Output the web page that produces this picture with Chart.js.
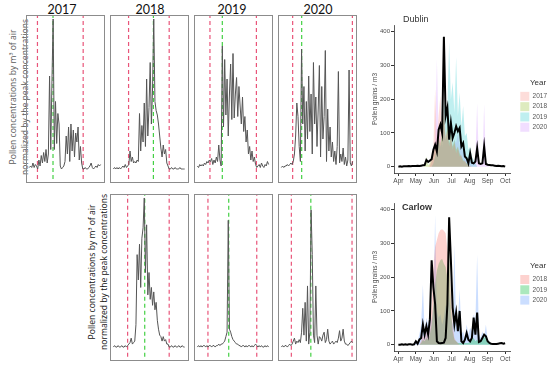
<!DOCTYPE html>
<html>
<head>
<meta charset="utf-8">
<script src="https://cdn.jsdelivr.net/npm/chart.js@4.4.1/dist/chart.umd.min.js"></script>
<style>
  body { margin: 0; background: #fff; width: 550px; height: 370px; position: relative; overflow: hidden; }
  .panel { position: absolute; border: 1.5px solid #8c8c8c; box-sizing: border-box; width: 79px; }
  .panel canvas { display: block; }
  .year { position: absolute; top: 2px; width: 60px; text-align: center; font: 12.5px Lato, sans-serif; color: #111; }
  .ylab { position: absolute; width: 180px; height: 22px; line-height: 11px; text-align: center;
          font: 8.6px "Open Sans", sans-serif; transform: rotate(-90deg); white-space: nowrap; }
  .site { position: absolute; font: 9px "Liberation Sans", Arial, sans-serif; color: #333; }
  .big { position: absolute; }
</style>
</head>
<body>

<div class="year" style="left:32px">2017</div>
<div class="year" style="left:120px">2018</div>
<div class="year" style="left:202px">2019</div>
<div class="year" style="left:288px">2020</div>

<div class="ylab" style="left:-72px;top:86px;color:#5a5a5a">Pollen concentrations by m³ of air<br>normalized by the peak concentrations</div>
<div class="ylab" style="left:7px;top:261px;color:#111">Pollen concentrations by m³ of air<br>normalized by the peak concentrations</div>

<div class="panel" style="left:26px;top:15px;height:168px"><canvas id="d2017" width="76" height="165"></canvas></div>
<div class="panel" style="left:110px;top:15px;height:168px"><canvas id="d2018" width="76" height="165"></canvas></div>
<div class="panel" style="left:194px;top:15px;height:168px"><canvas id="d2019" width="76" height="165"></canvas></div>
<div class="panel" style="left:278px;top:15px;height:168px"><canvas id="d2020" width="76" height="165"></canvas></div>

<div class="panel" style="left:110px;top:194px;height:167px"><canvas id="c2018" width="76" height="164"></canvas></div>
<div class="panel" style="left:194px;top:194px;height:167px"><canvas id="c2019" width="76" height="164"></canvas></div>
<div class="panel" style="left:278px;top:194px;height:167px"><canvas id="c2020" width="76" height="164"></canvas></div>

<canvas class="big" id="dublin" width="185" height="172" style="left:365px;top:15px"></canvas>
<canvas class="big" id="carlow" width="185" height="172" style="left:365px;top:193px"></canvas>
<div class="site" style="left:403px;top:14px">Dublin</div>
<div class="site" style="left:402px;top:202px;font-weight:bold">Carlow</div>

<script>
// normalised daily series (left panels), one value per step
const dub2017 = [0.01,0.02,0.01,0.04,0.01,0.03,0.02,0.00,0.06,0.02,
  0.09,0.04,0.11,0.05,0.13,0.04,0.10,0.62,0.13,0.58,
  1.00,0.13,0.45,0.17,0.37,0.30,0.02,0.00,0.01,0.02,
  0.05,0.22,0.10,0.28,0.05,0.30,0.12,0.26,0.08,0.24,
  0.18,0.28,0.06,0.15,0.04,0.00,0.00,0.01,0.00,0.00,
  0.01,0.02,0.04,0.01,0.00,0.01,0.02,0.01,0.03,0.02,0.03];
const dub2018 = [0.00,0.01,0.00,0.01,0.00,0.01,0.00,0.01,0.02,0.01,
  0.03,0.01,0.02,0.03,0.12,0.05,0.08,0.04,0.05,0.04,
  0.06,0.05,0.37,0.12,0.29,0.18,0.44,0.15,0.60,0.22,
  0.41,0.71,0.30,0.54,1.00,0.45,0.39,0.36,0.30,0.22,
  0.14,0.08,0.16,0.10,0.13,0.04,0.02,0.00,0.00,0.01,
  0.00,0.00,0.01,0.00,0.00,0.00,0.01,0.00,0.00,0.00,0.00];
const dub2019 = [0.02,0.01,0.03,0.02,0.03,0.02,0.04,0.03,0.05,0.04,
  0.06,0.05,0.07,0.03,0.06,0.04,0.08,0.05,0.16,0.06,
  0.02,0.82,0.28,0.73,0.36,0.60,0.22,0.50,0.70,0.33,
  0.77,0.34,0.50,0.61,0.35,0.55,0.42,0.30,0.48,0.25,
  0.35,0.18,0.26,0.10,0.15,0.06,0.12,0.05,0.08,0.03,
  0.01,0.02,0.03,0.01,0.04,0.02,0.01,0.03,0.02,0.05,0.03];
const dub2020 = [0.01,0.02,0.01,0.02,0.02,0.03,0.02,0.03,0.04,0.03,
  0.05,0.10,0.22,0.44,0.35,0.15,0.05,0.80,0.30,0.55,
  0.12,0.45,0.20,0.62,0.25,0.50,0.10,0.71,0.30,0.48,
  0.15,0.40,0.69,0.08,0.55,0.20,0.35,0.79,0.05,0.40,
  0.12,0.28,0.08,0.18,0.05,0.12,0.03,0.15,0.65,0.04,
  0.10,0.05,0.14,0.03,0.08,0.02,0.06,0.66,0.04,0.02,0.05];
const car2018 = [0.00,0.01,0.00,0.00,0.01,0.00,0.00,0.01,0.00,0.00,
  0.01,0.00,0.01,0.02,0.03,0.06,0.02,0.03,0.04,0.15,
  0.62,0.45,0.69,0.40,0.73,0.80,1.00,0.50,0.82,0.35,
  0.50,0.32,0.40,0.28,0.37,0.25,0.30,0.18,0.12,0.08,
  0.07,0.04,0.07,0.04,0.05,0.02,0.02,0.00,0.00,0.01,
  0.00,0.00,0.01,0.00,0.00,0.01,0.00,0.00,0.01,0.00,0.00];
const car2019 = [0.00,0.01,0.00,0.01,0.00,0.01,0.01,0.00,0.01,0.00,
  0.01,0.01,0.00,0.01,0.01,0.00,0.01,0.01,0.02,0.01,
  0.02,0.02,0.03,0.04,0.07,0.10,0.85,0.12,0.10,0.07,
  0.05,0.04,0.03,0.02,0.02,0.01,0.01,0.00,0.01,0.01,
  0.00,0.01,0.00,0.01,0.01,0.00,0.01,0.00,0.01,0.02,
  0.01,0.00,0.01,0.00,0.01,0.00,0.00,0.01,0.00,0.01,0.00];
const car2020 = [0.00,0.01,0.00,0.01,0.01,0.00,0.01,0.02,0.01,0.02,
  0.04,0.06,0.02,0.04,0.03,0.05,0.03,0.10,0.26,0.08,
  0.30,0.04,0.41,0.02,0.10,0.92,0.62,0.08,0.03,0.41,
  0.08,0.02,0.07,0.06,0.04,0.08,0.10,0.03,0.05,0.12,
  0.04,0.02,0.03,0.04,0.02,0.03,0.04,0.03,0.06,0.11,
  0.04,0.06,0.12,0.04,0.02,0.02,0.01,0.02,0.03,0.04,0.03];

// season start / end (red) and peak day (green), in the same steps
const dubSeason = [[6.8, 45.3], [12.8, 47.0], [10.6, 49.7], [9.5, 59.8]];
const dubPeak = [19.9, 33.7, 21.0, 17.1];
const carSeason = [[12.0, 47.0], [8.9, 50.0], [8.4, 59.5]];
const carPeak = [26.4, 26.4, 24.8];

// right hand charts: days after 1 April
const days = [0,3,6,9,12,15,18,21,24,27,30,33,36,39,42,45,48,51,54,57,60,63,66,69,72,75,78,81,84,87,
  90,93,96,99,102,105,108,111,114,117,120,123,126,129,132,135,138,141,144,147,150,153,156,159,162,165,168,171,174,177,180,183];
const monthDays = [0, 30, 61, 91, 122, 153, 183];
const monthLabels = ["Apr", "May", "Jun", "Jul", "Aug", "Sep", "Oct"];
const grainTicks = [0, 100, 200, 300, 400];

const dublinMean = [0,1,0,1,1,1,2,1,2,2,2,3,2,3,4,5,20,14,18,22,50,65,45,110,125,100,385,150,175,80,
  130,85,100,120,105,115,60,70,30,25,10,40,12,10,15,55,10,8,10,60,8,6,5,4,4,3,2,3,2,1,2,0];
const dublin2017 = [0,0,0,0,0,0,0,0,0,0,0,0,0,0,0,0,0,0,5,30,60,230,70,150,210,120,180,90,110,60,
  90,50,70,40,55,30,35,15,20,8,5,3,0,0,0,0,0,0,0,0,0,0,0,0,0,0,0,0,0,0,0,0];
const dublin2018 = [0,0,0,0,0,0,0,0,0,0,0,0,0,0,0,3,30,5,10,20,40,60,40,90,70,110,150,80,120,70,
  100,60,80,50,60,40,30,20,15,10,5,0,0,0,0,0,0,0,0,0,0,0,0,0,0,0,0,0,0,0,0,0];
const dublin2019 = [0,0,0,0,0,0,0,0,0,0,0,0,0,0,0,0,0,0,0,0,10,30,50,80,60,120,200,150,180,370,
  200,250,160,326,150,220,120,180,90,100,50,60,30,20,10,0,0,0,0,0,0,0,0,0,0,0,0,0,0,0,0,0];
const dublin2020 = [0,0,0,0,0,0,0,0,0,0,0,0,0,0,0,0,0,0,0,15,40,80,320,90,100,60,140,80,100,70,
  90,60,80,70,100,60,80,40,50,20,30,15,20,10,30,189,10,5,10,186,10,5,0,0,0,0,0,0,0,0,0,0];

const carlowMean = [0,0,1,0,1,0,1,1,0,1,10,3,15,20,60,30,55,30,75,250,170,120,10,5,4,5,6,20,120,378,
  250,110,60,95,40,100,10,5,15,35,15,10,20,80,30,95,8,10,20,30,25,10,5,3,2,2,2,3,4,5,3,4];
const carlow2018 = [0,0,0,0,0,0,0,0,0,0,0,0,0,10,30,15,40,20,50,120,230,290,310,330,340,342,338,330,280,260,
  150,60,20,10,5,0,0,0,0,0,0,0,0,0,0,0,0,0,0,0,0,0,0,0,0,0,0,0,0,0,0,0];
const carlow2019 = [0,0,0,0,0,0,0,0,0,0,0,0,0,5,15,10,20,15,30,60,120,180,220,240,250,255,240,230,200,280,
  120,40,15,10,5,5,5,5,5,5,5,10,15,20,10,15,5,10,25,20,30,15,5,0,0,0,0,0,0,0,0,0];
const carlow2020 = [0,0,0,0,0,0,0,0,0,0,5,10,30,60,178,40,80,60,100,70,120,385,100,80,90,60,80,120,90,150,
  80,60,296,50,70,165,30,40,20,60,30,50,40,90,70,267,30,20,40,20,60,15,10,0,0,0,0,0,0,0,0,0];

const RED = "#e9557a";
const GREEN = "#44d044";

function vline(x, color) {
  return {
    data: [{ x: x, y: -0.3 }, { x: x, y: 1.3 }],
    borderColor: color, borderWidth: 1.2, borderDash: [4, 3],
    pointRadius: 0, fill: false
  };
}

function panel(id, values, season, peak) {
  const sets = [{
    data: values.map((v, i) => ({ x: i, y: v })),
    borderColor: "#555", borderWidth: 1, pointRadius: 0, fill: false
  }];
  season.forEach(x => sets.push(vline(x, RED)));
  sets.push(vline(peak, GREEN));
  new Chart(document.getElementById(id), {
    type: "line",
    data: { datasets: sets },
    options: {
      animation: false, responsive: false, events: [],
      layout: { padding: 0 },
      plugins: { legend: { display: false }, tooltip: { enabled: false } },
      scales: {
        x: { type: "linear", min: -2, max: 62, display: false },
        y: { min: -0.08, max: 1.02, display: false }
      }
    }
  });
}

panel("d2017", dub2017, dubSeason[0], dubPeak[0]);
panel("d2018", dub2018, dubSeason[1], dubPeak[1]);
panel("d2019", dub2019, dubSeason[2], dubPeak[2]);
panel("d2020", dub2020, dubSeason[3], dubPeak[3]);
panel("c2018", car2018, carSeason[0], carPeak[0]);
panel("c2019", car2019, carSeason[1], carPeak[1]);
panel("c2020", car2020, carSeason[2], carPeak[2]);

const FONT = "'Liberation Sans', Arial, sans-serif";

// ggplot keeps a gap between the panel and its legend keys
const legendGap = {
  id: "legendGap",
  afterLayout(chart) {
    chart.legend.left += 8;
    chart.legend.right += 8;
  }
};

function seasonChart(id, mean, years, labels, colors) {
  const sets = years.map((vals, j) => ({
    label: labels[j],
    data: vals.map((v, k) => ({ x: days[k], y: v })),
    backgroundColor: colors[j], borderColor: colors[j], borderWidth: 0,
    pointRadius: 0, fill: "origin", order: 1
  }));
  sets.push({
    label: "mean",
    data: mean.map((v, k) => ({ x: days[k], y: v })),
    borderColor: "#000", borderWidth: 2, pointRadius: 0, fill: false, order: 0
  });

  new Chart(document.getElementById(id), {
    type: "line",
    data: { datasets: sets },
    plugins: [legendGap],
    options: {
      animation: false, responsive: false, events: [],
      layout: { padding: { top: 10, right: 1, left: 0, bottom: 0 } },
      plugins: {
        tooltip: { enabled: false },
        legend: {
          position: "right", align: "center",
          title: { display: true, text: "Year", color: "#333", font: { size: 8, family: FONT }, padding: { top: 0, bottom: 2 } },
          labels: {
            boxWidth: 9, boxHeight: 9, padding: 1.3, color: "#555",
            font: { size: 6.5, family: FONT },
            filter: item => item.text !== "mean"
          }
        }
      },
      scales: {
        x: {
          type: "linear", min: -7.5, max: 193,
          afterBuildTicks: s => { s.ticks = monthDays.map(v => ({ value: v })); },
          afterFit: s => { s.height = 14; },
          ticks: { callback: (v, i) => monthLabels[i], color: "#4d4d4d", font: { size: 6.5, family: FONT }, padding: 1, maxRotation: 0, autoSkip: false },
          grid: { drawOnChartArea: false, tickLength: 3, color: "#333" },
          border: { color: "#333", width: 0.8 }
        },
        y: {
          min: -18.7, max: 420,
          afterBuildTicks: s => { s.ticks = grainTicks.map(v => ({ value: v })); },
          afterFit: s => { s.width = 29; },
          ticks: { color: "#4d4d4d", font: { size: 6, family: FONT }, padding: 1 },
          grid: { drawOnChartArea: false, tickLength: 3, color: "#333" },
          border: { color: "#333", width: 0.8 },
          title: { display: true, text: "Pollen grains / m3", color: "#4d4d4d", font: { size: 6.5, family: FONT }, padding: { top: 6, bottom: 0 } }
        }
      }
    }
  });
}

seasonChart("dublin", dublinMean, [dublin2017, dublin2018, dublin2019, dublin2020],
  ["2017", "2018", "2019", "2020"],
  ["rgba(248,118,109,0.25)", "rgba(124,174,0,0.25)", "rgba(0,191,196,0.25)", "rgba(199,124,255,0.25)"]);
seasonChart("carlow", carlowMean, [carlow2018, carlow2019, carlow2020],
  ["2018", "2019", "2020"],
  ["rgba(248,118,109,0.33)", "rgba(0,186,56,0.33)", "rgba(97,156,255,0.33)"]);
</script>
</body>
</html>
